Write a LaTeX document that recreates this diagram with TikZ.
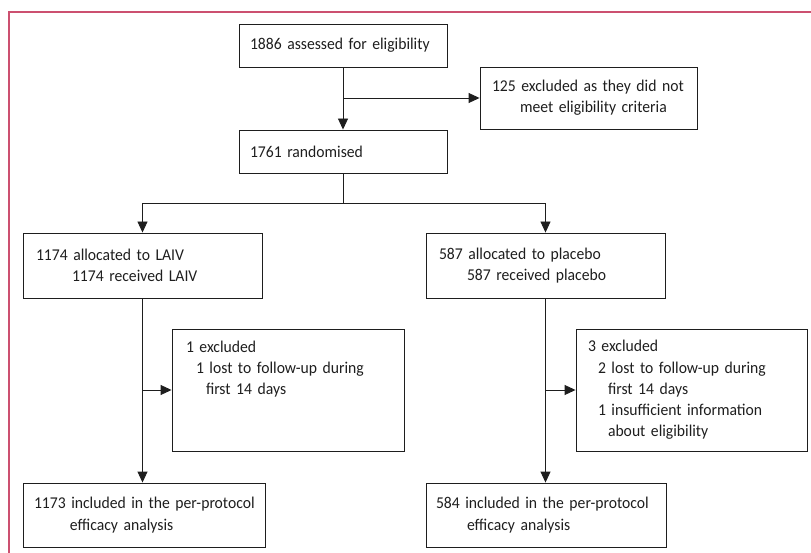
\documentclass[tikz,border=0pt]{standalone}
\usepackage{fontspec}
\setmainfont{Carlito}[FakeStretch=0.95]
\usetikzlibrary{arrows.meta}
\definecolor{framepink}{RGB}{204,80,112}
\definecolor{inkgray}{RGB}{30,30,30}
\hyphenpenalty=10000
\exhyphenpenalty=10000

\begin{document}
\begin{tikzpicture}[x=1pt, y=-1pt,
    box/.style={draw=inkgray, line width=0.9pt, align=left, inner ysep=0pt,
      font=\fontsize{16.5}{21.2}\selectfont, text=inkgray},
    link/.style={draw=inkgray, line width=0.9pt},
    arr/.style={link, -{Triangle[length=11pt,width=10pt]}}]
    \useasboundingbox (0,0) rectangle (811,553);

    % Frame
    \draw[framepink, line width=1.3pt] (811,12) -- (9,12) -- (9,553);

    % Enrolment
    \node[box, text width=186pt, inner xsep=11pt, minimum height=43pt] (assess) at (343,45.5) {1886~assessed~for~eligibility};
    \node[box, text width=193pt, inner xsep=12pt, minimum height=62pt] (notelig) at (588.5,98) {125~excluded~as~they~did~not\\\hspace*{28pt}meet~eligibility~criteria};
    \node[box, text width=186pt, inner xsep=11pt, minimum height=43pt] (rand) at (343,151.5) {1761 randomised};

    % Allocation
    \node[box, text width=213pt, inner xsep=13pt, minimum height=65pt] (laiv) at (142.5,265.5) {1174~allocated~to~LAIV\\\hspace*{36pt}1174~received~LAIV};
    \node[box, text width=213pt, inner xsep=13pt, minimum height=65pt] (plac) at (545.5,265.5) {587~allocated~to~placebo\\\hspace*{28pt}587~received~placebo};

    % Exclusions
    \node[box, text width=204pt, inner xsep=14pt, minimum height=122pt] (exlaiv) at (288,390) {1~excluded\\\hspace*{10pt}1~lost~to~follow-up~during\\\hspace*{20pt}first~14~days\rule[-44pt]{0pt}{44pt}};
    \node[box, text width=207pt, inner xsep=12pt, minimum height=122pt] (explac) at (691.5,390) {3~excluded\\\hspace*{10pt}2~lost~to~follow-up~during\\\hspace*{20pt}first~14~days\\\hspace*{10pt}1~insufficient~information\\\hspace*{20pt}about~eligibility};

    % Analysis
    \node[box, text width=220pt, inner xsep=11pt, minimum height=64pt] (analaiv) at (144,515) {1173~included~in~the~per-protocol\\\hspace*{36pt}efficacy~analysis};
    \node[box, text width=220pt, inner xsep=10pt, minimum height=64pt] (anaplac) at (546,515) {584~included~in~the~per-protocol\\\hspace*{31pt}efficacy~analysis};

    % Arrows
    \draw[arr] (assess) -- (rand);
    \draw[arr] (assess.south |- notelig.west) -- (notelig.west);
    \draw[arr] (rand.south) -- ++(0,30) -| (laiv.north);
    \draw[arr] (rand.south) -- ++(0,30) -| (plac.north);

    \draw[arr] (laiv.south) -- (laiv.south |- analaiv.north);
    \draw[arr] (laiv.south |- exlaiv.west) -- (exlaiv.west);
    \draw[arr] (plac.south) -- (plac.south |- anaplac.north);
    \draw[arr] (plac.south |- explac.west) -- (explac.west);
\end{tikzpicture}
\end{document}
